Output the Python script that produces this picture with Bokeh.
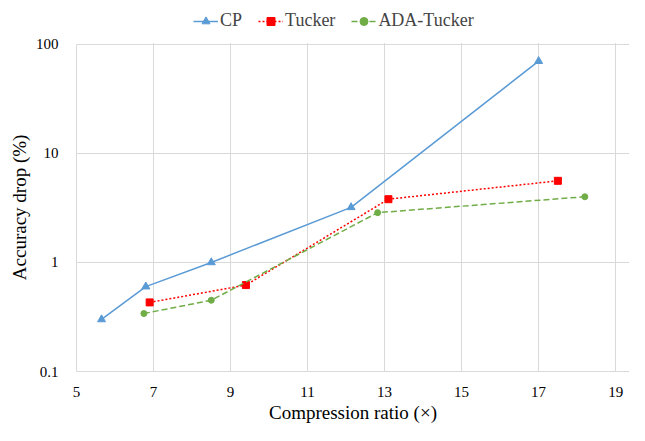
from bokeh.plotting import figure
from bokeh.models import Range1d, FixedTicker, CustomJSTickFormatter, Legend, LegendItem, BoxAnnotation
from bokeh.embed import file_html
from bokeh.resources import INLINE

cp_x = [5.65, 6.8, 8.5, 12.13, 17.0]
cp_y = [0.30, 0.60, 1.0, 3.2, 70.0]
tk_x = [6.9, 9.4, 13.1, 17.5]
tk_y = [0.43, 0.62, 3.8, 5.6]
ada_x = [6.75, 8.5, 12.82, 18.2]
ada_y = [0.34, 0.45, 2.86, 4.0]
x_ticks = [5, 7, 9, 11, 13, 15, 17, 19]
y_ticks = [0.1, 1, 10, 100]

FONT = "Liberation Serif"

# frame reaches the top edge so the legend can sit above the 100 line
p = figure(width=629, height=425, y_axis_type="log", output_backend="svg",
           toolbar_location=None, x_range=Range1d(5, 19.36), y_range=Range1d(0.1, 252),
           min_border_left=76, min_border_right=0, min_border_top=0, min_border_bottom=0)
p.title.visible = False
p.outline_line_color = None

for ax in (p.xaxis[0], p.yaxis[0]):
    ax.axis_line_color = "#D9D9D9"
    ax.major_tick_line_color = None
    ax.minor_tick_line_color = None
    ax.major_label_text_font = FONT
    ax.major_label_text_font_size = "15px"
    ax.major_label_text_color = "#000000"
    ax.axis_label_text_font = FONT
    ax.axis_label_text_font_size = "19px"
    ax.axis_label_text_font_style = "normal"
    ax.axis_label_text_color = "#000000"

p.yaxis.bounds = (0.1, 100)
p.xaxis.ticker = FixedTicker(ticks=x_ticks)
p.yaxis.ticker = FixedTicker(ticks=y_ticks)
p.yaxis.formatter = CustomJSTickFormatter(code="return String(Math.round(tick*10)/10);")
p.xaxis.axis_label = "Compression ratio (×)"
# trailing no-break spaces centre the rotated title on the 0.1-100 span
p.yaxis.axis_label = "Accuracy drop (%)" + "\u00a0" * 9
p.xaxis.major_label_standoff = 9
p.yaxis.major_label_standoff = 12
p.xaxis.axis_label_standoff = 2
p.yaxis.axis_label_standoff = 3

p.xgrid.ticker = FixedTicker(ticks=x_ticks)
p.ygrid.ticker = FixedTicker(ticks=y_ticks)
p.grid.grid_line_color = "#D9D9D9"
p.grid.grid_line_width = 1
p.ygrid.minor_grid_line_color = None

c_cp, c_tk, c_ada = "#5B9BD5", "#FF0000", "#70AD47"
l1 = p.line(cp_x, cp_y, line_color=c_cp, line_width=1.5)
m1 = p.scatter(cp_x, cp_y, marker="triangle", size=8, fill_color=c_cp, line_color=c_cp)
l2 = p.line(tk_x, tk_y, line_color=c_tk, line_width=1.5, line_dash="2 2")
m2 = p.scatter(tk_x, tk_y, marker="square", size=7, fill_color=c_tk, line_color=c_tk)
l3 = p.line(ada_x, ada_y, line_color=c_ada, line_width=1.5, line_dash="6 3")
m3 = p.scatter(ada_x, ada_y, marker="circle", size=6, fill_color=c_ada, line_color=c_ada)

# blank band above the 100 gridline
p.add_layout(BoxAnnotation(bottom=103, fill_color="white", fill_alpha=1, line_color=None))

legend = Legend(items=[LegendItem(label="CP", renderers=[l1, m1]),
                       LegendItem(label="Tucker", renderers=[l2, m2]),
                       LegendItem(label="ADA-Tucker", renderers=[l3, m3])],
                orientation="horizontal", location=(117, 340),
                label_text_font=FONT, label_text_font_size="18px",
                border_line_color=None, background_fill_alpha=0,
                glyph_width=25, spacing=16, padding=4, margin=0, label_standoff=2)
p.add_layout(legend, "center")

open("out.html", "w").write(file_html(p, INLINE))
